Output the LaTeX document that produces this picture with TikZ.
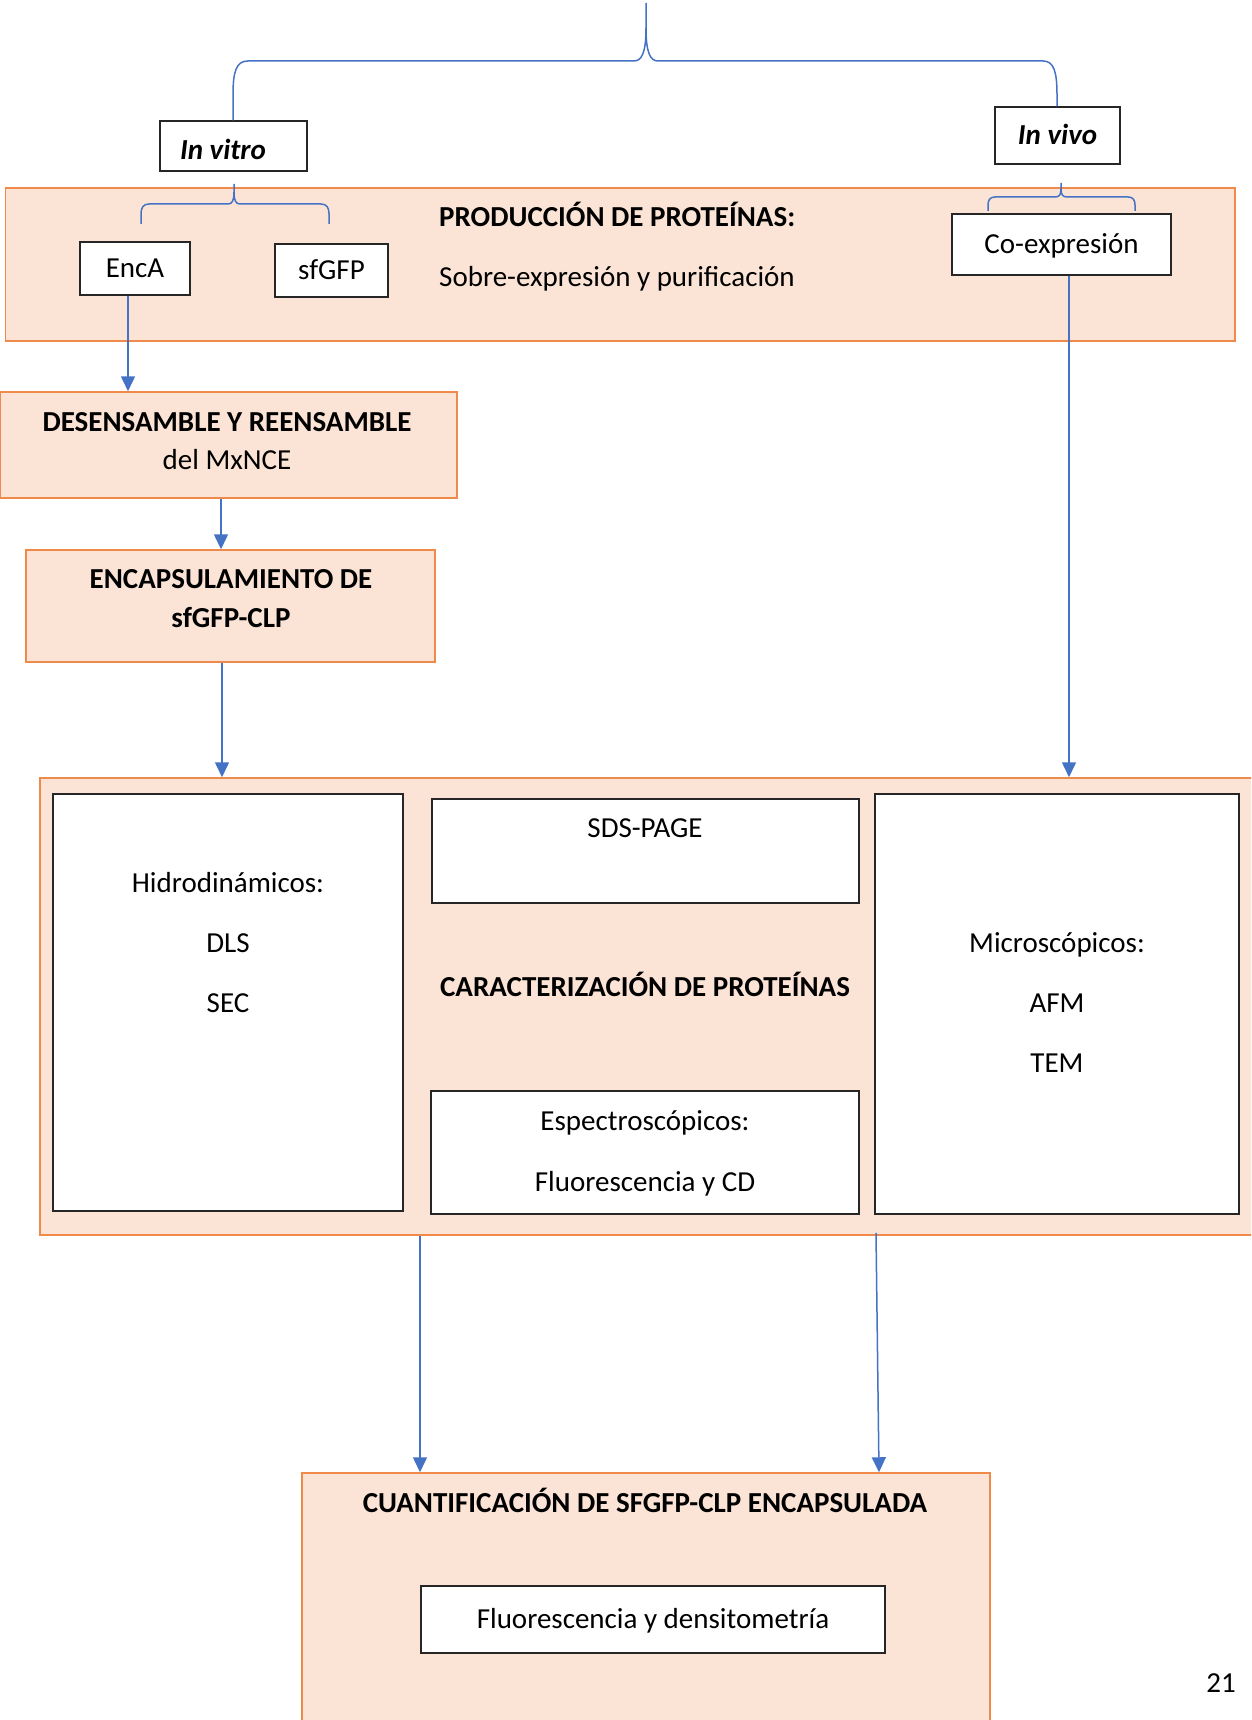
\documentclass[tikz,border=0pt]{standalone}
\usepackage{fontspec}
\setmainfont{Carlito}
\usetikzlibrary{arrows.meta}
\definecolor{peach}{HTML}{FBE4D5}
\definecolor{orng}{HTML}{F08A4B}
\definecolor{blu}{HTML}{4472C4}
\begin{document}
\begin{tikzpicture}[x=1pt,y=-1pt,
  every node/.style={font=\fontsize{29}{35}\selectfont},
  panel/.style={draw=orng, fill=peach, line width=1.5pt, inner sep=0pt},
  wbox/.style={draw=black!85, fill=white, line width=1.4pt, inner sep=0pt, text height=18.7pt, text depth=0pt},
  txt/.style={inner sep=0pt, text height=18.7pt, text depth=0pt},
  arr/.style={draw=blu, line width=1.5pt, -{Triangle[width=14pt,length=15pt]}},
  brc/.style={draw=blu, line width=1.5pt}]
\useasboundingbox (0,0) rectangle (1251,1720);
\clip (0,0) rectangle (1251,1720);
\fill[white] (0,0) rectangle (1251,1720);

% panels
\node[panel, minimum width=1229.5pt, minimum height=153pt] (prod) at (620.25,264.5) {};
\node[panel, minimum width=457pt, minimum height=106pt] (desens) at (228.5,445) {};
\node[panel, minimum width=409pt, minimum height=112pt] (encaps) at (230.5,606) {};
\node[panel, minimum width=1220pt, minimum height=457pt] (caract) at (650,1006.5) {};
\node[panel, minimum width=688pt, minimum height=257pt] (cuant) at (646,1601.5) {};

% top boxes
\node[wbox, minimum width=147pt, minimum height=50pt] (invitro) at (233.5,146) {};
\node[txt, font=\fontsize{29}{35}\selectfont\bfseries\itshape] (tinvitro) at (223,150) {In vitro};
\node[wbox, minimum width=125pt, minimum height=57pt, font=\fontsize{29}{35}\selectfont\bfseries\itshape] (invivo) at (1057.5,135.5) {In vivo};

\node[wbox, minimum width=110pt, minimum height=53pt] (enca) at (135,268.5) {EncA};
\node[wbox, minimum width=113pt, minimum height=53pt] (sfgfp) at (331.5,270.5) {sfGFP};
\node[wbox, minimum width=219pt, minimum height=61pt] (coexp) at (1061.5,244.5) {Co-expresión};

\node[txt, anchor=west, font=\fontsize{29}{35}\selectfont\bfseries] (tprod) at (439,217) {PRODUCCIÓN DE PROTEÍNAS:};
\node[txt, anchor=west] (tsobre) at (439,277) {Sobre-expresión y purificación};

\node[txt, font=\fontsize{29}{35}\selectfont\bfseries] (tdes1) at (227,422) {DESENSAMBLE Y REENSAMBLE};
\node[txt] (tdes2) at (227,460) {del MxNCE};
\node[txt, font=\fontsize{29}{35}\selectfont\bfseries] (tenc1) at (231,579) {ENCAPSULAMIENTO DE};
\node[txt, font=\fontsize{29}{35}\selectfont\bfseries] (tenc2) at (231,618) {sfGFP-CLP};

% characterisation
\node[wbox, minimum width=350pt, minimum height=417pt] (hidro) at (228,1002.5) {};
\node[txt] (th1) at (228,883) {Hidrodinámicos:};
\node[txt] (th2) at (228,943) {DLS};
\node[txt] (th3) at (228,1003) {SEC};
\node[wbox, minimum width=427pt, minimum height=104pt] (sds) at (645.5,851) {};
\node[txt] (tsds) at (645,828) {SDS-PAGE};
\node[txt, font=\fontsize{29}{35}\selectfont\bfseries] (tcar) at (645,987) {CARACTERIZACIÓN DE PROTEÍNAS};
\node[wbox, minimum width=428pt, minimum height=123pt] (espec) at (645,1152.5) {};
\node[txt] (te1) at (645,1121) {Espectroscópicos:};
\node[txt] (te2) at (645,1182) {Fluorescencia y CD};
\node[wbox, minimum width=364pt, minimum height=420pt] (micro) at (1057,1004) {};
\node[txt] (tm1) at (1057,943) {Microscópicos:};
\node[txt] (tm2) at (1057,1003) {AFM};
\node[txt] (tm3) at (1057,1063) {TEM};

% quantification
\node[txt, font=\fontsize{29}{35}\selectfont\bfseries] (tcu) at (645,1503) {CUANTIFICACIÓN DE SFGFP-CLP ENCAPSULADA};
\node[wbox, minimum width=464pt, minimum height=67pt] (fden) at (653,1619.5) {Fluorescencia y densitometría};

\node[txt] (page) at (1221,1683) {21};

% braces
\coordinate (btop) at (646,3);
\draw[brc] (btop) -- (646,28) .. controls (646,52) and (642,61) .. (634,61) -- (248,61)
  .. controls (236,61) and (233,72) .. (233,95) -- (invitro.north -| 233,0);
\draw[brc] (646,28) .. controls (646,52) and (650,61) .. (658,61) -- (1043,61)
  .. controls (1054,61) and (1057,72) .. (1057,95) -- (invivo.north -| 1057,0);

\coordinate (b2top) at (234,184);
\draw[brc] (b2top) -- (234,192) .. controls (234,201) and (232,204) .. (228,204) -- (149,204)
  .. controls (143,204) and (141,208) .. (141,214) -- (141,224);
\draw[brc] (234,192) .. controls (234,201) and (236,204) .. (240,204) -- (321,204)
  .. controls (327,204) and (329,208) .. (329,214) -- (329,224);

\coordinate (b3top) at (1061,183);
\draw[brc] (b3top) -- (1061,189) .. controls (1061,195) and (1059,197) .. (1055,197) -- (995,197)
  .. controls (990,197) and (988,200) .. (988,205) -- (988,211);
\draw[brc] (1061,189) .. controls (1061,195) and (1063,197) .. (1067,197) -- (1128,197)
  .. controls (1133,197) and (1135,200) .. (1135,205) -- (1135,211);

% arrows
\draw[arr] ([xshift=-7pt]enca.south) -- ([xshift=-7pt]enca.south |- desens.north);
\draw[arr] ([xshift=-7.5pt]desens.south) -- ([xshift=-7.5pt]desens.south |- encaps.north);
\draw[arr] ([xshift=-8.5pt]encaps.south) -- ([xshift=-8.5pt]encaps.south |- caract.north);
\draw[arr] ([xshift=7.5pt]coexp.south) -- ([xshift=7.5pt]coexp.south |- caract.north);
\draw[arr] (caract.south -| 420,0) -- (cuant.north -| 420,0);
\draw[arr] ([yshift=3pt]caract.south -| 876,0) -- (cuant.north -| 879,0);
\end{tikzpicture}
\end{document}
